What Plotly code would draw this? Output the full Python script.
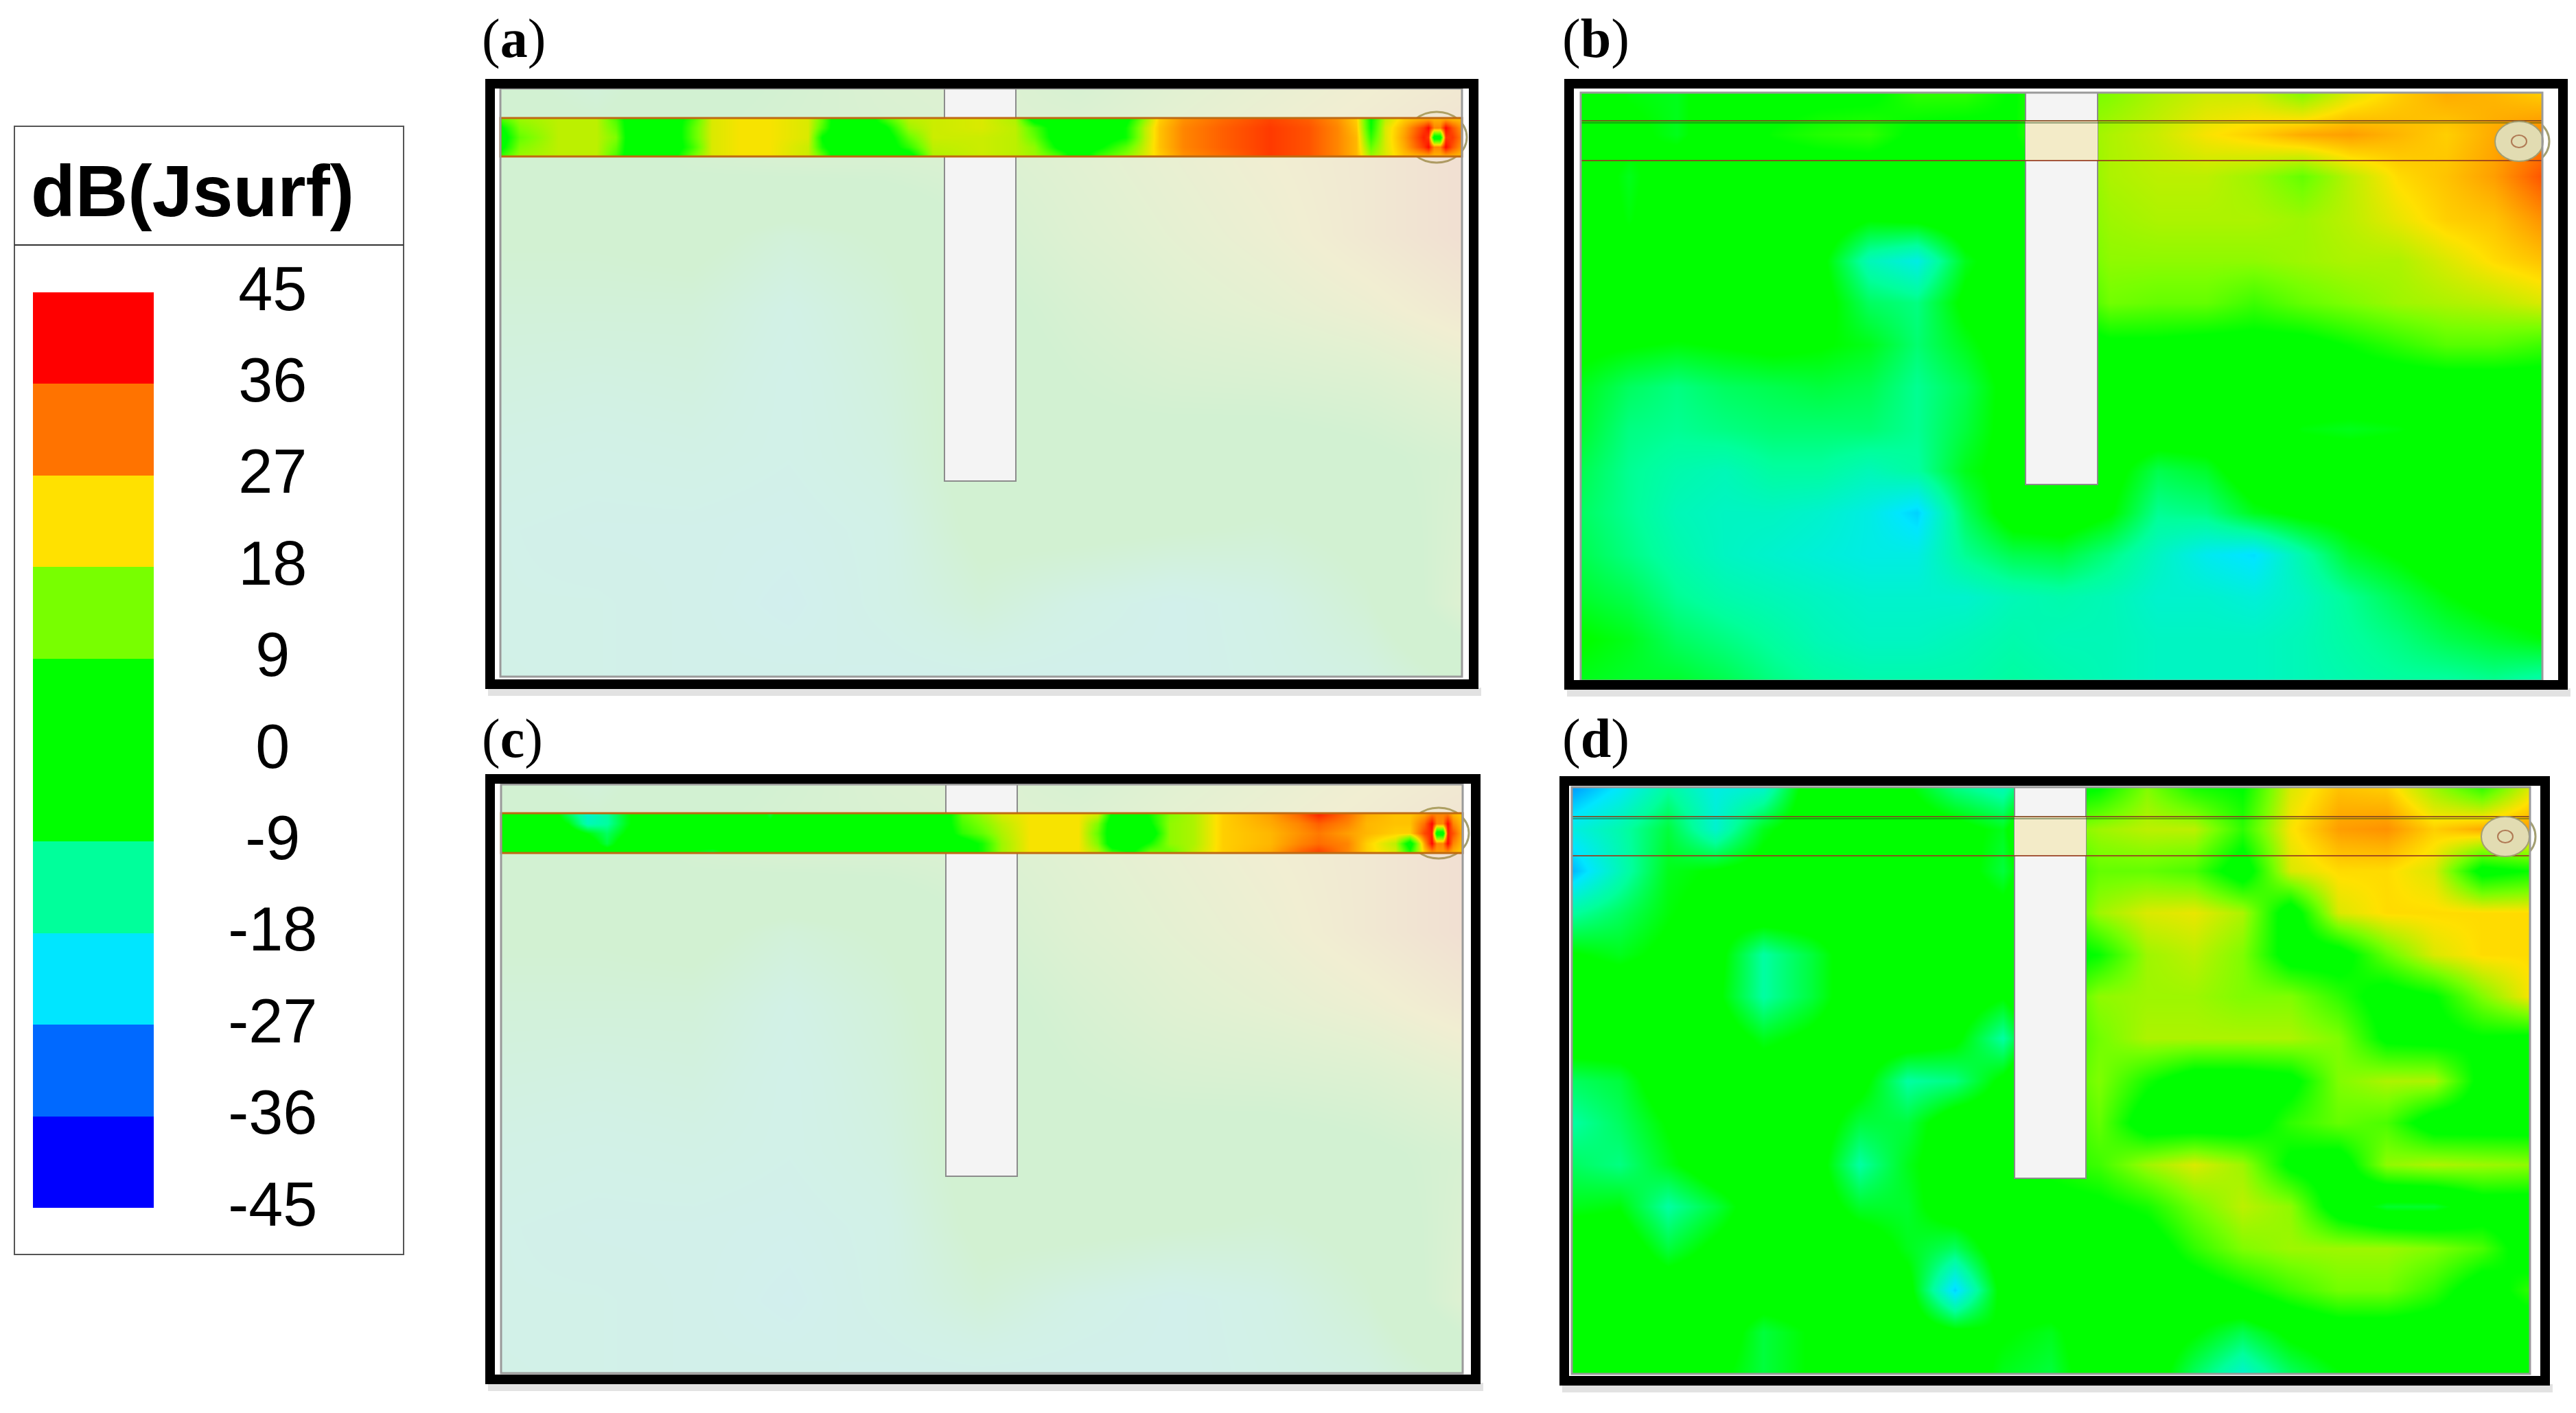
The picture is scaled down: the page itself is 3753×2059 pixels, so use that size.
import plotly.graph_objects as go

W = 3753
H = 2059
# the page keeps the browser's default body margin
PAGE_MARGIN = 8

# legend
legend_title = "dB(Jsurf)"
legend_ticks = [45, 36, 27, 18, 9, 0, -9, -18, -27, -36, -45]
legend_mid = [40.5, 31.5, 22.5, 13.5, 4.5, -4.5, -13.5, -22.5, -31.5, -40.5]
legend_colors = ["#ff0000", "#ff7300", "#ffe100", "#78ff00", "#00ff00",
                 "#00ff00", "#00ff9b", "#00e6ff", "#0069ff", "#0000ff"]

# field grids, in percent of the patch (left to right, top to bottom)
field_x = list(range(0, 101, 5))
field_y = [i * 100 / 14 for i in range(15)]
pale_x = list(range(0, 101, 10))
pale_y = [0, 12.5, 25, 37.5, 50, 62.5, 75, 87.5, 100]
strip_y = [0, 25, 50, 75, 100]

# dB(Jsurf) in the ground plane, panels (a) and (c) look the same
field_pale = [
    [-2, -8, 2, 6, 10, 12, 8, 14, 18, 22, 26],
    [2, 0, 6, 8, 8, 10, 14, 18, 22, 26, 32],
    [-4, -4, -2, -8, -4, 6, 12, 16, 20, 26, 32],
    [-8, -8, -8, -14, -8, 2, 8, 13, 16, 20, 26],
    [-11, -12, -11, -16, -10, 0, 5, 8, 9, 11, 16],
    [-14, -15, -14, -16, -12, 0, 3, 1, 0, 3, 8],
    [-16, -17, -17, -18, -15, -2, -2, -4, -6, -2, 10],
    [-16, -16, -17, -20, -15, -8, -14, -18, -14, -6, 12],
    [-15, -16, -17, -17, -18, -17, -18, -18, -15, -12, -3],
]

field_b = [
    [0, -5, -6, 0, 2, 3, 3, 8, 8, 4, 12, 14, 17, 19, 19, 14, 20, 24, 27, 26, 24],
    [0, -3, -6, 0, 5, 7, 8, 3, 2, 4, 14, 17, 19, 22, 24, 27, 28, 26, 24, 27, 30],
    [0, -6, 0, 0, 0, 0, 0, 0, 0, 0, 12, 17, 18, 18, 16, 12, 18, 23, 25, 28, 34],
    [0, -5, 0, 0, 0, 0, -4, -3, 0, 0, 12, 16, 17, 17, 17, 16, 18, 21, 24, 25, 29],
    [0, -2, 0, 0, 0, -3, -16, -20, -6, 0, 10, 15, 15, 15, 15, 16, 17, 17, 20, 23, 25],
    [0, 0, 0, 0, 0, -2, -10, -12, -3, 0, 5, 13, 12, 12, 9, 12, 14, 16, 17, 18, 20],
    [-3, -4, -5, -4, -3, -4, -6, -11, -6, -1, 0, 3, 3, 2, 2, 2, 5, 8, 11, 11, 9],
    [-6, -10, -12, -10, -9, -8, -9, -13, -9, -2, 0, 2, 0, 0, 0, 0, 0, 0, 0, 0, 0],
    [-7, -12, -13, -12, -11, -11, -11, -13, -8, -2, 0, 0, 0, 0, 0, -5, -6, -5, -2, 0, 0],
    [-9, -13, -15, -16, -14, -14, -16, -14, -6, -2, 0, -2, -9, -7, 0, 0, 0, 0, 0, 0, 0],
    [-10, -13, -16, -17, -17, -18, -20, -24, -10, -1, 0, -4, -13, -12, -6, -3, -2, 0, 0, 0, 0],
    [-9, -12, -15, -17, -18, -19, -20, -20, -13, -9, -8, -12, -17, -21, -23, -15, -7, -4, 0, 0, 0],
    [-7, -9, -13, -15, -16, -17, -18, -18, -18, -16, -15, -16, -18, -18, -19, -17, -13, -9, -5, -2, 0],
    [-4, -6, -10, -12, -14, -16, -17, -17, -16, -15, -16, -16, -17, -17, -17, -16, -14, -12, -9, -7, -5],
    [-6, -7, -7, -9, -12, -14, -15, -15, -15, -14, -15, -16, -17, -17, -17, -16, -15, -14, -14, -13, -15],
]

field_d = [
    [-28, -22, -14, -20, -18, 0, 0, -4, -12, -16, 0, 4, 14, 6, 4, 20, 25, 24, 16, 8, 20],
    [-20, -15, -8, -18, -6, 0, 0, 0, -2, -6, 12, 16, 18, 18, 8, 22, 28, 29, 24, 27, 28],
    [-26, -16, -6, -4, -2, 0, 0, 0, -1, -8, 6, 12, 12, 10, 0, 20, 23, 23, 20, 2, 5],
    [-14, -10, -5, -2, 0, 0, 0, 0, 0, -2, 4, 16, 20, 21, 17, 0, 20, 23, 23, 23, 23],
    [-4, -6, -3, -2, -14, -8, 0, 0, 0, -2, 0, 5, 16, 18, 14, 1, 1, 12, 20, 23, 23],
    [0, 0, 0, -3, -14, -8, 0, 0, 0, -4, 6, 15, 16, 16, 14, 14, 8, 1, 4, 14, 22],
    [0, 0, 0, 0, -6, -3, 0, 0, -3, -14, 6, 13, 17, 17, 17, 17, 14, 3, 2, 4, 3],
    [-10, -8, 0, 0, 0, 0, -2, -14, -12, -3, 8, 14, 6, 0, 0, 2, 14, 17, 17, 2, 0],
    [-14, -10, -4, 0, 0, 0, -8, -8, 0, 0, 6, 12, 0, 0, 0, 8, 12, 10, 0, 0, 0],
    [-10, -12, -6, 0, 0, 0, -14, -6, 0, 0, 6, 9, 16, 20, 16, 3, 0, 15, 17, 16, 15],
    [-6, -5, -14, -8, 0, 0, -7, -7, 0, 0, 2, 3, 6, 13, 18, 15, 0, -7, -7, 0, 0],
    [0, 0, -8, -3, 0, 0, 0, -6, -10, 0, 0, 0, 0, 8, 14, 16, 16, 16, 14, 10, 0],
    [0, 0, 0, 0, 0, 0, 0, -2, -24, -2, 0, 0, 0, 0, 4, 9, 13, 13, 8, 0, 8],
    [-5, 0, 0, 0, -8, -4, 0, 0, -3, -4, -6, 0, 0, -4, -9, -3, 0, 0, 0, 0, 0],
    [-3, 0, 0, -3, -8, -4, 0, 0, 0, -6, -8, 0, 0, -10, -18, -10, -5, 0, 0, 0, 0],
]

# feed line, panel (a)
strip_a_x = [0, 2, 6, 10, 12, 13.5, 16, 18, 20, 22, 25, 28, 32, 33.5, 35, 38, 40, 42.5, 45, 50, 53.5, 55.5,
             58, 60, 62, 65, 67, 68.5, 71, 75, 80, 84, 87, 89, 90.5, 92, 94, 96, 96.5, 97.1, 97.7, 98.3, 99, 100]
strip_a = [
    [11, 16, 18, 18, 10, 0, 0, 0, 9, 20, 22, 22, 20, 12, 0, 0, 10, 18, 19, 20, 17, 0,
     0, 0, 0, 2, 15, 24, 29, 32, 35, 33, 29, 24, 4, 18, 24, 26, 26, 26, 26, 26, 25, 25],
    [3, 14, 18, 18, 12, 0, 0, 0, 11, 20, 22, 22, 20, 10, 0, 0, 3, 16, 19, 20, 18, 10,
     0, 0, 0, 5, 18, 25, 30, 33, 36, 34, 30, 25, 5, 20, 27, 36, 40, 30, 30, 40, 34, 28],
    [0, 12, 18, 18, 14, 0, 0, 0, 11, 20, 22, 22, 20, 4, 0, 0, 0, 12, 19, 19, 18, 12,
     0, 0, 0, 5, 18, 25, 30, 33, 36, 34, 30, 26, 8, 20, 28, 38, 36, 0, 0, 36, 36, 30],
    [2, 14, 18, 18, 12, 0, 0, 0, 9, 20, 22, 22, 19, 6, 0, 0, 0, 8, 18, 19, 18, 15,
     3, 0, 3, 11, 19, 25, 30, 33, 36, 34, 30, 26, 12, 20, 27, 36, 40, 30, 30, 40, 34, 28],
    [9, 16, 18, 18, 10, 0, 0, 3, 13, 20, 22, 22, 19, 12, 0, 0, 0, 0, 17, 19, 18, 16,
     11, 0, 9, 15, 20, 24, 29, 32, 36, 34, 30, 26, 16, 20, 25, 26, 26, 26, 26, 26, 26, 25],
]

# feed line, panel (c)
strip_c_x = [0, 5, 7, 9, 11, 13, 15, 22, 27, 28, 29, 35, 45, 46.5, 48, 50, 52, 55, 60, 62,
             63.5, 65.5, 67.5, 69.5, 72, 75, 80, 83, 85, 88, 90, 93, 94.5, 96, 96.8, 97.3, 97.9, 98.4, 99, 100]
strip_c = [
    [0, 0, -10, -18, -14, -6, 0, 0, 0, -8, 0, 0, 0, 3, 12, 16, 20, 22, 22, 20,
     4, 0, 6, 14, 17, 24, 28, 33, 38, 32, 27, 25, 25, 27, 30, 30, 30, 30, 26, 24],
    [0, 0, -5, -16, -14, -6, 0, 0, -4, -2, 0, 0, 0, 3, 10, 14, 18, 22, 22, 14,
     0, 0, 4, 15, 17, 24, 27, 30, 33, 30, 26, 25, 25, 32, 40, 30, 30, 40, 30, 25],
    [0, 0, 0, -5, -10, -4, 0, 0, 0, 0, 0, -2, 0, 2, 8, 12, 17, 22, 22, 12,
     0, 0, 0, 15, 17, 24, 26, 29, 31, 28, 26, 24, 24, 35, 38, 0, 0, 38, 34, 26],
    [0, 0, 0, 0, -8, 0, 0, -1, 0, 2, 4, 4, 0, 0, 0, 6, 16, 22, 22, 14,
     0, 0, 6, 15, 17, 24, 26, 30, 32, 30, 24, 18, 0, 28, 40, 30, 30, 40, 30, 25],
    [0, 0, 0, 0, 0, -2, 0, -8, 4, 5, 2, 0, 0, 0, 0, 6, 16, 22, 22, 18,
     10, 4, 14, 12, 18, 24, 27, 33, 36, 30, 24, 20, 8, 24, 28, 28, 28, 28, 26, 24],
]

# colour scale of the fields: legend colours at the middle of each band
scale_values = [-45, -40.5, -31.5, -22.5, -13.5, -4.5, 4.5, 13.5, 22.5, 31.5, 40.5, 45]
scale_colors = ["#0000ff", "#0000ff", "#0069ff", "#00e6ff", "#00ff9b", "#00ff00",
                "#00ff00", "#78ff00", "#ffe100", "#ff7300", "#ff0000", "#ff0000"]
field_scale = [[(v + 45) / 90, c] for v, c in zip(scale_values, scale_colors)]

legend_scale = []
for i, c in enumerate(reversed(legend_colors)):
    legend_scale += [[i / 10, c], [(i + 1) / 10, c]]

# panel geometry in page pixels
panels = {
    "a": dict(frame=(707, 115, 2154, 1004), patch=(729, 129, 2130, 986), slot=(1376, 1480, 701),
              strip=(172, 228), feed=(2093, 200), label=(748, 57)),
    "b": dict(frame=(2279, 115, 3741, 1005), patch=(2303, 135, 3704, 992), slot=(2951, 3056, 706),
              strip=(176, 234), feed=(3670, 206), label=(2325, 57)),
    "c": dict(frame=(707, 1128, 2157, 2017), patch=(730, 1143, 2131, 2001), slot=(1378, 1482, 1714),
              strip=(1185, 1243), feed=(2096, 1214), label=(746, 1076)),
    "d": dict(frame=(2272, 1131, 3715, 2019), patch=(2290, 1147, 3686, 2002), slot=(2935, 3039, 1717),
              strip=(1190, 1247), feed=(3650, 1219), label=(2325, 1076)),
}
frame_width = 14

fig = go.Figure()
layout_axes = {}
shapes = []
annotations = []
n_axes = 0


def px(x):
    return (x - PAGE_MARGIN) / W


def py(y):
    return 1 - (y - PAGE_MARGIN) / H


def add_axes(x0, y0, x1, y1, xrange, yrange):
    global n_axes
    n_axes += 1
    suffix = "" if n_axes == 1 else str(n_axes)
    layout_axes["xaxis" + suffix] = dict(domain=[px(x0), px(x1)], range=xrange, visible=False,
                                         fixedrange=True, anchor="y" + suffix)
    layout_axes["yaxis" + suffix] = dict(domain=[py(y1), py(y0)], range=yrange, visible=False,
                                         fixedrange=True, anchor="x" + suffix)
    return "x" + suffix, "y" + suffix


def rect(x0, y0, x1, y1, fill="rgba(0,0,0,0)", line=None, width=0, layer="above", kind="rect"):
    shapes.append(dict(type=kind, xref="paper", yref="paper", x0=px(x0), x1=px(x1), y0=py(y1), y1=py(y0),
                       fillcolor=fill, line=dict(color=line or "rgba(0,0,0,0)", width=width), layer=layer))


def hline(x0, x1, y, color, width):
    shapes.append(dict(type="line", xref="paper", yref="paper", x0=px(x0), x1=px(x1), y0=py(y), y1=py(y),
                       line=dict(color=color, width=width), layer="above"))


def field_trace(x, y, z, xa, ya, opacity=1):
    return go.Heatmap(x=x, y=y, z=z, xaxis=xa, yaxis=ya, colorscale=field_scale, zmin=-45, zmax=45,
                      zsmooth="best", showscale=False, opacity=opacity, hoverinfo="skip")


for name, p in panels.items():
    fx0, fy0, fx1, fy1 = p["frame"]
    x0, y0, x1, y1 = p["patch"]
    sx0, sx1, sy1 = p["slot"]
    ty0, ty1 = p["strip"]
    cx, cy = p["feed"]
    pale = name in ("a", "c")

    # soft shadow under the frame, patch colour and feed pad go under the traces
    rect(fx0 + 4, fy1 - 2, fx1 + 4, fy1 + 10, fill="#e2e2e2", layer="below")
    if pale:
        rect(x0, y0, x1, y1, fill="#f0f0f0", layer="below")
    rect(cx - 44, cy - 37, cx + 44, cy + 37, line="#a39f72", width=3, layer="below", kind="circle")

    xa, ya = add_axes(x0, y0, x1, y1, [0, 100], [100, 0])
    if pale:
        fig.add_trace(field_trace(pale_x, pale_y, field_pale, xa, ya, opacity=0.12))
        xa2, ya2 = add_axes(x0, ty0, x1, ty1, [0, 100], [100, 0])
        sx = strip_a_x if name == "a" else strip_c_x
        sz = strip_a if name == "a" else strip_c
        fig.add_trace(field_trace(sx, strip_y, sz, xa2, ya2))
        rect(sx0, y0, sx1, ty0, fill="#f4f4f4", line="#8c8c8c", width=2)
        rect(sx0, ty1, sx1, sy1, fill="#f4f4f4", line="#8c8c8c", width=2)
        rect(x0, ty0, x1, ty1, line="#bf6a12", width=3)
    else:
        z = field_b if name == "b" else field_d
        fig.add_trace(field_trace(field_x, field_y, z, xa, ya))
        rect(sx0, y0, sx1, sy1, fill="#f4f4f4", line="#8c8c8c", width=2)
        rect(sx0, ty0, sx1, ty1, fill="#f3ebc8")
        hline(x0, x1, ty0, "rgba(130,70,30,0.85)", 2)
        hline(x0, x1, ty1, "rgba(150,60,30,0.85)", 2)
        hline(x0, x1, ty0 + 3, "rgba(40,70,20,0.45)", 2)
        rect(cx - 35, cy - 29, cx + 35, cy + 29, fill="#e2dcb2", line="#a39f72", width=2, kind="circle")
        rect(cx - 11, cy - 9, cx + 11, cy + 9, fill="#e2dcb2", line="#b07a55", width=2, kind="circle")

    rect(x0, y0, x1, y1, line="#9a9a9a", width=3)
    half = frame_width / 2
    rect(fx0 + half, fy0 + half, fx1 - half, fy1 - half, line="#000000", width=frame_width)

    annotations.append(dict(xref="paper", yref="paper", x=px(p["label"][0]), y=py(p["label"][1]),
                            text="(<b>%s</b>)" % name, showarrow=False, xanchor="center", yanchor="middle",
                            font=dict(family="Liberation Serif", size=80, color="#000000")))

# legend box
rect(21, 184, 588, 1828, line="#555555", width=2)
hline(21, 588, 357, "#333333", 2)
annotations.append(dict(xref="paper", yref="paper", x=px(280), y=py(278), text="<b>%s</b>" % legend_title,
                        showarrow=False, xanchor="center", yanchor="middle",
                        font=dict(family="Liberation Sans", size=106, color="#000000")))

lx, ly = add_axes(48, 426, 520, 1760, [0, 100], [-45, 45])
fig.add_trace(go.Heatmap(x=[0, 37.3], y=legend_mid, z=[[v] for v in legend_mid], xaxis=lx, yaxis=ly,
                         colorscale=legend_scale, zmin=-45, zmax=45, showscale=False, hoverinfo="skip"))
# labels sit a little lower than the band edges
tx, ty = add_axes(48, 429, 520, 1763, [0, 100], [-45, 45])
fig.add_trace(go.Scatter(x=[74] * len(legend_ticks), y=legend_ticks, text=[str(t) for t in legend_ticks],
                         mode="text", textposition="middle center", xaxis=tx, yaxis=ty, cliponaxis=False,
                         textfont=dict(family="Liberation Sans", size=90, color="#000000"), hoverinfo="skip"))

fig.update_layout(width=W, height=H, margin=dict(l=0, r=0, t=0, b=0), showlegend=False,
                  paper_bgcolor="#ffffff", plot_bgcolor="rgba(0,0,0,0)",
                  shapes=shapes, annotations=annotations, **layout_axes)

fig.write_html("out.html")
